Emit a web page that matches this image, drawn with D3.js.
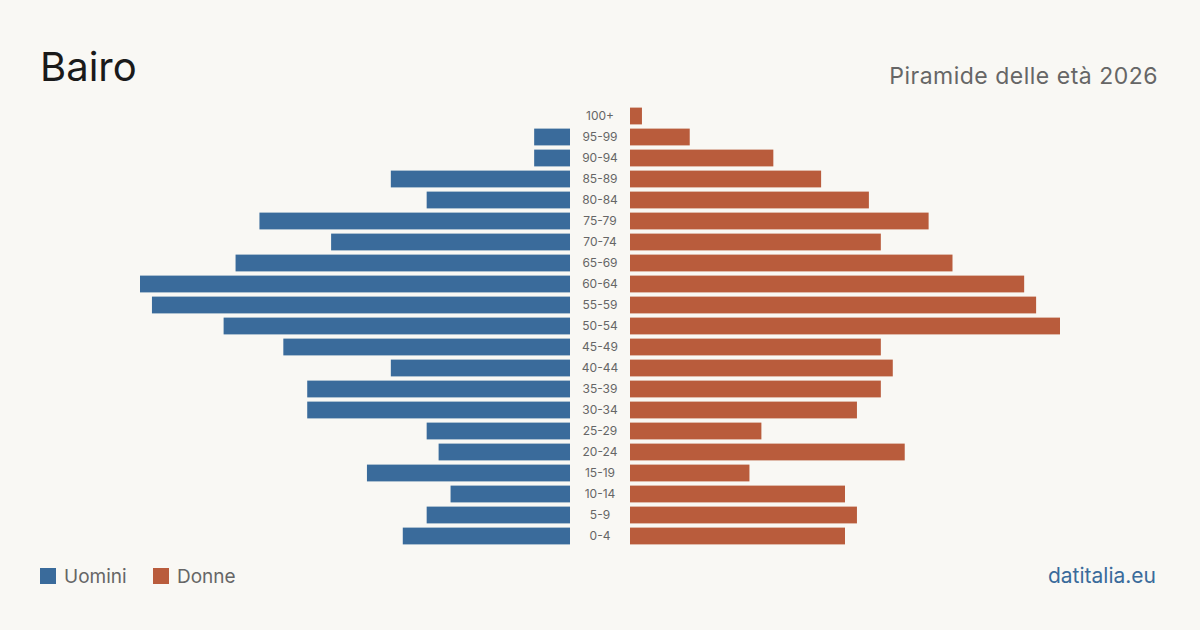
<!DOCTYPE html>
<html>
<head>
<meta charset="utf-8">
<script src="https://cdn.jsdelivr.net/npm/d3@7"></script>
<style>
  html, body { margin: 0; padding: 0; background: #f9f8f4; }
  svg { display: block; font-family: Inter, "Liberation Sans", sans-serif; }
</style>
</head>
<body>
<div id="chart"></div>
<script>
const ageGroups = ['100+', '95-99', '90-94', '85-89', '80-84', '75-79', '70-74', '65-69', '60-64', '55-59',
  '50-54', '45-49', '40-44', '35-39', '30-34', '25-29', '20-24', '15-19', '10-14', '5-9', '0-4'];
const men   = [0, 3, 3, 15, 12, 26, 20, 28, 36, 35, 29, 24, 15, 22, 22, 12, 11, 17, 10, 12, 14];
const women = [1, 5, 12, 16, 20, 25, 21, 27, 33, 34, 36, 21, 22, 21, 19, 11, 23, 10, 18, 19, 18];
const seriesNames = ['Uomini', 'Donne'];
const colors = ['#3a6b9b', '#b95c3c'];

const width = 1200, height = 630;
const svg = d3.select('#chart').append('svg')
  .attr('width', width).attr('height', height);

svg.append('rect').attr('width', width).attr('height', height).attr('fill', '#f9f8f4');

const maxVal = 36;
const xLeft = d3.scaleLinear().domain([0, maxVal]).range([570, 140]);
const xRight = d3.scaleLinear().domain([0, maxVal]).range([630, 1060]);
const y = d3.scaleBand().domain(ageGroups).range([105.5, 546.5])
  .paddingInner(0.2).paddingOuter(0.1);

// barre uomini
svg.selectAll('rect.men')
  .data(men)
  .enter().append('rect')
  .attr('class', 'men')
  .attr('x', d => xLeft(d))
  .attr('y', (d, i) => y(ageGroups[i]))
  .attr('width', d => xLeft(0) - xLeft(d))
  .attr('height', y.bandwidth())
  .attr('fill', colors[0]);

// barre donne
svg.selectAll('rect.women')
  .data(women)
  .enter().append('rect')
  .attr('class', 'women')
  .attr('x', xRight(0))
  .attr('y', (d, i) => y(ageGroups[i]))
  .attr('width', d => xRight(d) - xRight(0))
  .attr('height', y.bandwidth())
  .attr('fill', colors[1]);

// etichette età al centro
svg.selectAll('text.age')
  .data(ageGroups)
  .enter().append('text')
  .attr('class', 'age')
  .attr('x', 600)
  .attr('y', d => y(d) + y.bandwidth() / 2)
  .attr('dy', '.35em')
  .attr('text-anchor', 'middle')
  .attr('font-size', 12)
  .attr('fill', '#666')
  .text(d => d);

// titolo
svg.append('text')
  .attr('x', 40).attr('y', 81)
  .attr('font-size', 40)
  .attr('fill', '#1a1a1a')
  .text('Bairo');

svg.append('text')
  .attr('x', 1158).attr('y', 84)
  .attr('text-anchor', 'end')
  .attr('font-size', 23)
  .attr('letter-spacing', 0.5)
  .attr('fill', '#666')
  .text('Piramide delle età 2026');

// legenda
const legend = svg.append('g').attr('transform', 'translate(40,568)');
const lx = [0, 113];
seriesNames.forEach((name, i) => {
  legend.append('rect')
    .attr('x', lx[i]).attr('y', 0)
    .attr('width', 16).attr('height', 16)
    .attr('fill', colors[i]);
  legend.append('text')
    .attr('x', lx[i] + 24).attr('y', 15)
    .attr('font-size', 19)
    .attr('fill', '#666')
    .text(name);
});

svg.append('text')
  .attr('x', 1156).attr('y', 583)
  .attr('text-anchor', 'end')
  .attr('font-size', 21)
  .attr('fill', '#3a6b9b')
  .text('datitalia.eu');
</script>
</body>
</html>
